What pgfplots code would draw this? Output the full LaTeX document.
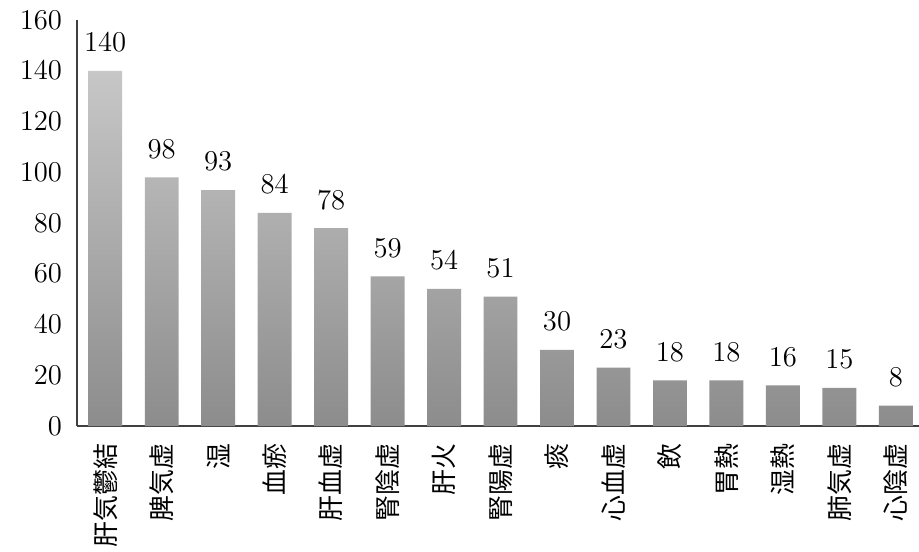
\documentclass[border=0pt]{standalone}
\usepackage{fontspec}
\newfontfamily\cjk{Noto Sans CJK JP}
\usepackage{pgfplots}
\pgfplotsset{compat=1.18}
\begin{document}
\begin{tikzpicture}
\path[use as bounding box] (-38.5bp,-63bp) rectangle (421bp,213bp);
\begin{axis}[
  at={(0,0)}, anchor=south west,
  scale only axis, width=421bp, height=203bp,
  xmin=-0.5, xmax=14.41, ymin=0, ymax=160,
  axis x line=bottom, axis y line=left,
  axis line style={-, draw=black!75, line width=0.7pt},
  major tick length=0pt,
  ytick={0,20,...,160},
  yticklabel style={font=\fontsize{14}{16}\selectfont, xshift=-4bp},
  xtick=data,
  xticklabels={肝気鬱結,脾気虚,湿,血瘀,肝血虚,腎陰虚,肝火,腎陽虚,痰,心血虚,飲,胃熱,湿熱,肺気虚,心陰虚},
  xticklabel style={rotate=90, anchor=east, inner sep=0pt, font=\cjk\fontsize{13}{15}\selectfont},
  xticklabel shift=8.5bp,
]
\addplot[ybar, bar width=0.6, draw=none,
  top color=black!22, bottom color=black!45,
  nodes near coords,
  nodes near coords style={font=\fontsize{14}{16}\selectfont, yshift=6bp}]
  coordinates {(0,140) (1,98) (2,93) (3,84) (4,78) (5,59) (6,54) (7,51)
               (8,30) (9,23) (10,18) (11,18) (12,16) (13,15) (14,8)};
\end{axis}
\end{tikzpicture}
\end{document}
